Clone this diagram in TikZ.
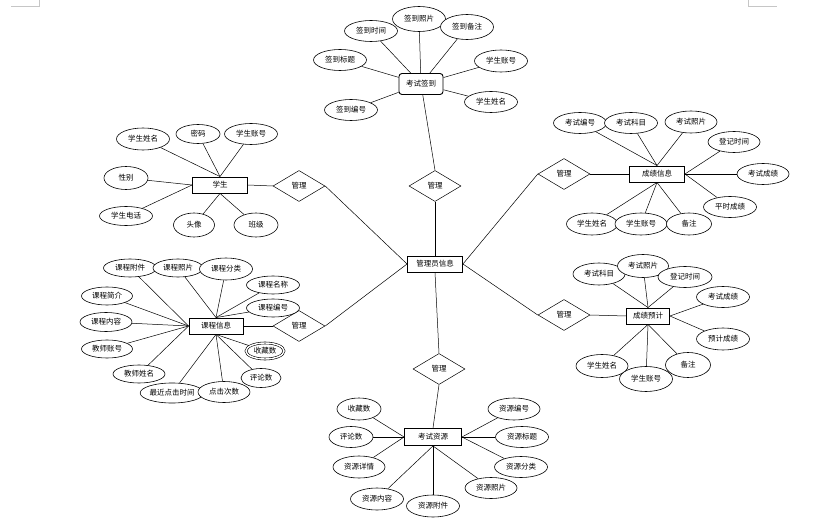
\documentclass[tikz,border=0pt]{standalone}
\usepackage{fontspec}
\newfontfamily\cjk{Noto Sans CJK SC}
\usetikzlibrary{shapes.geometric, backgrounds, positioning}
\tikzset{
    entitynode/.style = {draw, rectangle, line width=0.9pt, inner sep=0em, fill=white,
      minimum width=55pt, minimum height=16pt, font=\cjk\fontsize{7.5}{8}\selectfont},
    relnode/.style = {draw, diamond, inner sep=0em, fill=white, line width=0.5pt,
      minimum width=52pt, minimum height=31pt, font=\cjk\fontsize{7.5}{8}\selectfont},
    attrnode/.style = {draw, ellipse, inner sep=0em, fill=white, line width=0.6pt,
      minimum width=53pt, minimum height=21pt, font=\cjk\fontsize{7.5}{8}\selectfont},
    shortnode/.style = {attrnode, minimum width=44pt, minimum height=22pt},
    connect/.style = {black, -, line width=0.5pt},
    marknode/.style = {gray!45, line width=0.6pt}
}

\begin{document}
\begin{tikzpicture}[x=1pt, y=-1pt]
    \useasboundingbox (0,0) rectangle (825,524);
    \draw [marknode] (11,6) -- (39,6) -- (39,0);
    \draw [marknode] (748,0) -- (748,6) -- (777,6);

    % centre and relations
    \node [entitynode, name=admin] at (435,264) {管理员信息};
    \node [relnode, name=relT] at (435,186) {管理};
    \node [relnode, name=relB] at (439,369) {管理};
    \node [relnode, name=relLT] at (299,186) {管理};
    \node [relnode, name=relLB] at (299,326) {管理};
    \node [relnode, name=relRT] at (564,174) {管理};
    \node [relnode, name=relRB] at (564,315) {管理};

    % 考试签到
    \node [entitynode, name=sign, rounded corners=3pt, minimum width=44pt, minimum height=21pt] at (421,84) {考试签到};
    \node [attrnode, name=sgTime] at (371,31) {签到时间};
    \node [attrnode, name=sgPhoto, minimum height=25pt] at (419,19) {签到照片};
    \node [attrnode, name=sgNote, minimum height=25pt] at (467,27) {签到备注};
    \node [attrnode, name=sgTitle] at (340,60) {签到标题};
    \node [attrnode, name=sgNo] at (351,110) {签到编号};
    \node [attrnode, name=sgAcc, minimum height=22pt] at (501,61) {学生账号};
    \node [attrnode, name=sgName] at (491,102) {学生姓名};

    % 学生
    \node [entitynode, name=stu] at (220,185) {学生};
    \node [attrnode, name=stName, minimum height=22pt] at (143,139) {学生姓名};
    \node [shortnode, name=stPwd, minimum height=19pt] at (198,134) {密码};
    \node [attrnode, name=stAcc] at (251,134) {学生账号};
    \node [shortnode, name=stSex, minimum height=23pt] at (126,178) {性别};
    \node [attrnode, name=stTel, minimum height=19pt] at (126,216) {学生电话};
    \node [shortnode, name=stHead, minimum width=41pt, minimum height=24pt] at (194,225) {头像};
    \node [shortnode, name=stClass, minimum height=24pt] at (256,225) {班级};

    % 课程信息
    \node [entitynode, name=course, minimum width=54pt] at (216,326) {课程信息};
    \node [attrnode, name=csFile, minimum height=18pt] at (130,268) {课程附件};
    \node [attrnode, name=csPhoto, minimum width=50pt, minimum height=18pt] at (178,268) {课程照片};
    \node [attrnode, name=csType, minimum height=22pt] at (226,269) {课程分类};
    \node [attrnode, name=csName, minimum height=18pt] at (273,285) {课程名称};
    \node [attrnode, name=csNo, minimum height=18pt] at (273,308) {课程编号};
    \node [attrnode, name=csIntro, minimum width=51pt, minimum height=18pt] at (107,296) {课程简介};
    \node [attrnode, name=csText, minimum width=52pt, minimum height=19pt] at (106,322) {课程内容};
    \node [attrnode, name=tcAcc, minimum width=51pt, minimum height=18pt] at (107,349) {教师账号};
    \node [attrnode, name=tcName, minimum width=52pt, minimum height=18pt] at (139,374) {教师姓名};
    \node [attrnode, name=csLast, minimum width=58pt, minimum height=20pt] at (172,393) {最近点击时间};
    \node [attrnode, name=csClick, minimum width=52pt] at (224,392) {点击次数};
    \node [attrnode, name=csFav, double, double distance=1.4pt, minimum width=38pt, minimum height=16pt] at (265,351) {收藏数};
    \node [attrnode, name=csCmt, minimum width=40pt, minimum height=19pt] at (261,378) {评论数};

    % 成绩信息
    \node [entitynode, name=score] at (657,174) {成绩信息};
    \node [attrnode, name=scNo] at (580,123) {考试编号};
    \node [attrnode, name=scSubj] at (631,123) {考试科目};
    \node [attrnode, name=scPhoto, minimum width=52pt, minimum height=22pt] at (691,122) {考试照片};
    \node [attrnode, name=scTime, minimum width=52pt] at (734,142) {登记时间};
    \node [attrnode, name=scScore, minimum width=52pt] at (763,174) {考试成绩};
    \node [attrnode, name=scUsual] at (730,207) {平时成绩};
    \node [attrnode, name=scName, minimum width=51pt, minimum height=22pt] at (592,224) {学生姓名};
    \node [attrnode, name=scAcc, minimum width=52pt, minimum height=22pt] at (641,224) {学生账号};
    \node [shortnode, name=scNote, minimum width=45pt] at (689,224) {备注};

    % 成绩预计
    \node [entitynode, name=predict, minimum width=43pt] at (648,316) {成绩预计};
    \node [attrnode, name=pdSubj, minimum width=52pt, minimum height=22pt] at (599,274) {考试科目};
    \node [attrnode, name=pdPhoto, minimum width=51pt, minimum height=23pt] at (643,266) {考试照片};
    \node [attrnode, name=pdTime, minimum width=54pt] at (685,277) {登记时间};
    \node [attrnode, name=pdScore] at (723,297) {考试成绩};
    \node [attrnode, name=pdPre, minimum height=22pt] at (723,339) {预计成绩};
    \node [attrnode, name=pdName, minimum width=52pt, minimum height=23pt] at (602,366) {学生姓名};
    \node [attrnode, name=pdNote, minimum width=45pt, minimum height=25pt] at (688,365) {备注};
    \node [attrnode, name=pdAcc, minimum height=25pt] at (646,379) {学生账号};

    % 考试资源
    \node [entitynode, name=res, minimum width=57pt, minimum height=17pt] at (433,437) {考试资源};
    \node [shortnode, name=rsFav] at (359,409) {收藏数};
    \node [shortnode, name=rsCmt, minimum height=21pt] at (351,437) {评论数};
    \node [attrnode, name=rsInfo, minimum width=52pt, minimum height=22pt] at (359,467) {资源详情};
    \node [attrnode, name=rsText, minimum height=22pt] at (377,499) {资源内容};
    \node [attrnode, name=rsFile, minimum height=22pt] at (433,506) {资源附件};
    \node [attrnode, name=rsPhoto, minimum width=52pt] at (491,488) {资源照片};
    \node [attrnode, name=rsType] at (521,467) {资源分类};
    \node [attrnode, name=rsTitle] at (522,437) {资源标题};
    \node [attrnode, name=rsNo, minimum width=52pt, minimum height=22pt] at (514,409) {资源编号};

    \begin{scope}[on background layer]
    % relations
    \draw (admin.north) edge[connect] (relT.south);
    \draw (relT.north) edge[connect] (sign);
    \draw (admin.south) edge[connect] (relB.north);
    \draw (relB.south) edge[connect] (res.north);
    \draw (admin.west) edge[connect] (relLT.east);
    \draw (admin.west) edge[connect] (relLB.east);
    \draw (admin.east) edge[connect] (relRT.west);
    \draw (admin.east) edge[connect] (relRB.west);
    \draw (relLT.west) edge[connect] (stu.east);
    \draw (relLB.west) edge[connect] (course.east);
    \draw (relRT.east) edge[connect] (score.west);
    \draw (relRB.east) edge[connect] (predict.west);

    % attributes
    \draw (sgTime) edge[connect] (sign);
    \draw (sgPhoto) edge[connect] (sign);
    \draw (sgNote) edge[connect] (sign);
    \draw (sgTitle) edge[connect] (sign);
    \draw (sgNo) edge[connect] (sign);
    \draw (sgAcc) edge[connect] (sign);
    \draw (sgName) edge[connect] (sign);

    \draw (stName) edge[connect] (stu.north);
    \draw (stPwd) edge[connect] (stu.north);
    \draw (stAcc) edge[connect] (stu.north);
    \draw (stSex) edge[connect] (stu.west);
    \draw (stTel) edge[connect] (stu.west);
    \draw (stHead) edge[connect] (stu.south);
    \draw (stClass) edge[connect] (stu.south);

    \draw (csFile) edge[connect] (course.west);
    \draw (csPhoto) edge[connect] (course.north);
    \draw (csType) edge[connect] (course.north);
    \draw (csName) edge[connect] (course.north);
    \draw (csNo) edge[connect] (course.north);
    \draw (csIntro) edge[connect] (course.west);
    \draw (csText) edge[connect] (course.west);
    \draw (tcAcc) edge[connect] (course.west);
    \draw (tcName) edge[connect] (course.west);
    \draw (csLast) edge[connect] (course.south);
    \draw (csClick) edge[connect] (course.south);
    \draw (csFav) edge[connect] (course.south);
    \draw (csCmt) edge[connect] (course.south);

    \draw (scNo) edge[connect] (score.north);
    \draw (scSubj) edge[connect] (score.north);
    \draw (scPhoto) edge[connect] (score.north);
    \draw (scTime) edge[connect] (score.east);
    \draw (scScore) edge[connect] (score.east);
    \draw (scUsual) edge[connect] (score.east);
    \draw (scName) edge[connect] (score.south);
    \draw (scAcc) edge[connect] (score.south);
    \draw (scNote) edge[connect] (score.south);

    \draw (pdSubj) edge[connect] (predict.north);
    \draw (pdPhoto) edge[connect] (predict.north);
    \draw (pdTime) edge[connect] (predict.north);
    \draw (pdScore) edge[connect] (predict.east);
    \draw (pdPre) edge[connect] (predict.east);
    \draw (pdName) edge[connect] (predict.south);
    \draw (pdAcc) edge[connect] (predict.south);
    \draw (pdNote) edge[connect] (predict.south);

    \draw (rsFav) edge[connect] (res.west);
    \draw (rsCmt) edge[connect] (res.west);
    \draw (rsInfo) edge[connect] (res.west);
    \draw (rsText) edge[connect] (res.south);
    \draw (rsFile) edge[connect] (res.south);
    \draw (rsPhoto) edge[connect] (res.south);
    \draw (rsType) edge[connect] (res.east);
    \draw (rsTitle) edge[connect] (res.east);
    \draw (rsNo) edge[connect] (res.east);
    \end{scope}
\end{tikzpicture}
\end{document}
